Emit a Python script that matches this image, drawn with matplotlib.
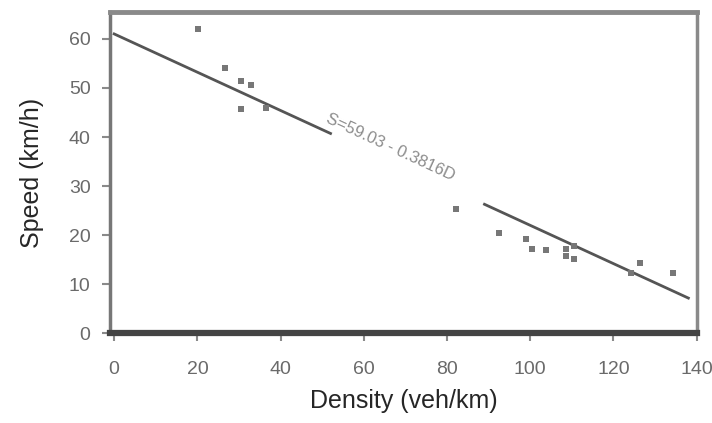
import matplotlib.pyplot as plt
import numpy as np

plt.rcParams["font.family"] = ["Liberation Sans", "DejaVu Sans"]

density = [20.2, 26.7, 30.6, 32.8, 30.6, 36.6, 82.2, 92.5, 99.0, 100.5,
           103.9, 108.7, 110.6, 108.7, 110.6, 126.3, 124.3, 134.2]
speed = [62.0, 54.0, 51.5, 50.5, 45.8, 46.0, 25.4, 20.5, 19.3, 17.2,
         17.0, 17.2, 17.8, 15.8, 15.2, 14.4, 12.2, 12.2]

# fitted line (intercept, slope) and the two drawn stretches of it
intercept = 61.0
slope = -0.39
fit_ranges = [(0, 52), (89, 138)]
fit_label = "S=59.03 - 0.3816D"

xticks = [0, 20, 40, 60, 80, 100, 120, 140]
yticks = [0, 10, 20, 30, 40, 50, 60]

fig = plt.figure(figsize=(7.12, 4.23), dpi=100)
ax = fig.add_axes([0.1545, 0.212, 0.824, 0.76])

ax.scatter(density, speed, s=14, color="#777777", marker="s", linewidths=0, zorder=3)

for lo, hi in fit_ranges:
    d = np.array([lo, hi])
    ax.plot(d, intercept + slope * d, color="#555555", lw=2, zorder=2)

ax.text(66.5, 38.0, fit_label, rotation=-24.8, ha="center", va="center",
        fontsize=12, color="#8c8c8c", rotation_mode="anchor")

ax.set_xlim(-1, 140)
ax.set_ylim(0, 65.5)
ax.set_xticks(xticks)
ax.set_yticks(yticks)
ax.tick_params(axis="both", labelsize=14, labelcolor="#6a6a6a", color="#8a8a8a",
               length=6, width=1.5, direction="out")
ax.tick_params(axis="x", pad=14)
ax.tick_params(axis="y", pad=8)

ax.spines["top"].set_color("#8a8a8a")
ax.spines["top"].set_linewidth(3.5)
ax.spines["bottom"].set_color("#444444")
ax.spines["bottom"].set_linewidth(4.5)
ax.spines["left"].set_color("#777777")
ax.spines["left"].set_linewidth(2.5)
ax.spines["right"].set_color("#8a8a8a")
ax.spines["right"].set_linewidth(2.5)

ax.set_xlabel("Density (veh/km)", fontsize=18, color="#262626", labelpad=8)
ax.set_ylabel("Speed (km/h)", fontsize=18, color="#262626", labelpad=18)

fig.savefig("out.png", dpi=100)
